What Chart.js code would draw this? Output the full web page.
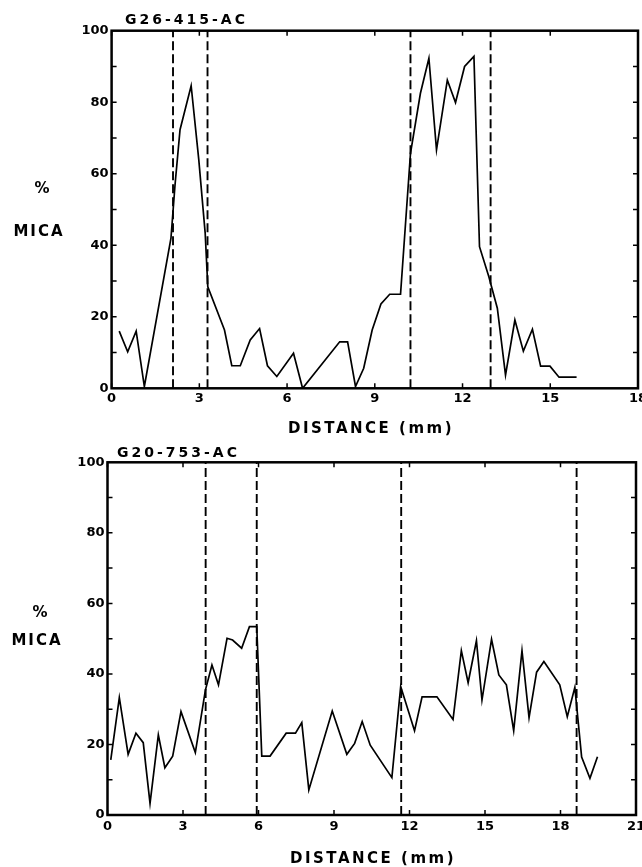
<!DOCTYPE html>
<html><head><meta charset="utf-8">
<script src="https://cdn.jsdelivr.net/npm/chart.js@4/dist/chart.umd.min.js"></script>
<style>
html,body{margin:0;padding:0;background:#fff;}
#wrap{position:relative;width:642px;height:867px;overflow:hidden;background:#fff;}
.box{position:absolute;left:0;width:642px;}
</style></head><body>
<div id="wrap">
<div class="box" style="top:0;height:440px"><canvas id="c1" width="642" height="440"></canvas></div>
<div class="box" style="top:440px;height:427px"><canvas id="c2" width="642" height="427"></canvas></div>
</div>
<script>
// ---- data ----
const topSample = "G26-415-AC";
const topDistance = [0.26,0.55,0.84,1.12,2.03,2.17,2.34,2.72,2.98,3.20,3.29,3.86,4.11,4.40,4.74,5.06,5.33,5.65,6.22,6.53,7.80,8.07,8.34,8.62,8.91,9.21,9.51,9.88,10.22,10.56,10.85,11.11,11.48,11.76,12.07,12.39,12.58,12.90,13.19,13.47,13.79,14.08,14.39,14.67,14.99,15.30,15.90];
const topMica = [16,10.2,16,0.5,42,57,72.3,84.6,64,43.4,28.4,16.3,6.3,6.3,13.5,16.7,6.3,3.3,9.8,0,13,13,0.5,5.6,16.3,23.6,26.3,26.3,65.7,82.5,92.3,66.7,86.2,79.9,90,92.8,39.6,31.2,22.4,3.7,19.1,10.4,16.5,6.2,6.2,3.1,3.1];
const topBoundaries = [2.1, 3.28, 10.22, 12.96];
const topXTicks = [0,3,6,9,12,15,18];

const bottomSample = "G20-753-AC";
const bottomDistance = [0.13,0.47,0.82,1.13,1.42,1.69,2.02,2.28,2.59,2.92,3.49,3.89,4.15,4.41,4.75,4.97,5.33,5.64,5.93,6.13,6.46,7.10,7.47,7.72,8.00,8.93,9.51,9.82,10.12,10.44,11.30,11.65,12.20,12.50,13.09,13.73,14.06,14.33,14.66,14.88,15.26,15.55,15.85,16.14,16.47,16.75,17.05,17.34,17.97,18.27,18.57,18.84,19.17,19.47];
const bottomMica = [15.6,33.3,17.2,23.2,20.5,3.3,22.7,13.4,16.7,29.3,17.7,35.4,42.5,36.9,50.1,49.6,47.3,53.4,53.4,16.7,16.7,23.2,23.2,26.2,7.1,29.5,17.2,20.3,26.5,19.8,10.6,36.4,23.9,33.5,33.5,27.1,46.6,37.5,49.4,32.6,49.8,39.7,36.9,23.9,46.6,27.6,40.5,43.5,36.9,27.9,36.2,16.4,10.4,16.5];
const bottomBoundaries = [3.9, 5.93, 11.67, 18.64];
const bottomXTicks = [0,3,6,9,12,15,18,21];

const yTickLabels = [0,20,40,60,80,100];
const yTickMarks = [10,20,30,40,50,60,70,80,90];
const yLabel1 = "%";
const yLabel2 = "MICA";
const xLabel = "DISTANCE (mm)";

// ---- drawing ----
const FONT = '"DejaVu Sans", "Liberation Sans", sans-serif';

const framePlugin = {
  id: 'frame',
  afterDatasetsDraw(chart, args, o) {
    const {ctx, chartArea: a, scales: {x, y}} = chart;
    ctx.save();
    ctx.strokeStyle = '#000';
    ctx.lineWidth = 1.5;
    ctx.beginPath();
    o.yMarks.forEach(v => {
      const py = y.getPixelForValue(v);
      ctx.moveTo(a.left, py); ctx.lineTo(a.left + 5, py);
      ctx.moveTo(a.right, py); ctx.lineTo(a.right - 5, py);
    });
    o.xMarks.forEach(v => {
      const px = x.getPixelForValue(v);
      ctx.moveTo(px, a.top); ctx.lineTo(px, a.top + 5);
      ctx.moveTo(px, a.bottom); ctx.lineTo(px, a.bottom - 5);
    });
    ctx.stroke();
    ctx.lineWidth = 2.5;
    ctx.strokeRect(a.left, a.top, a.right - a.left, a.bottom - a.top);

    ctx.fillStyle = '#000';
    ctx.textBaseline = 'middle';
    ctx.letterSpacing = '3px';
    ctx.font = 'bold 14px ' + FONT;
    ctx.textAlign = 'left';
    ctx.fillText(o.title, o.titlePos[0], o.titlePos[1]);
    ctx.letterSpacing = '2px';
    ctx.font = 'bold 15px ' + FONT;
    ctx.textAlign = 'center';
    ctx.fillText(yLabel1, o.pctPos[0], o.pctPos[1]);
    ctx.fillText(yLabel2, o.micaPos[0], o.micaPos[1]);
    ctx.letterSpacing = '2.5px';
    ctx.fillText(xLabel, o.xLabPos[0], o.xLabPos[1]);
    ctx.restore();
  }
};

function makeChart(id, H, area, xMax, xTicks, dist, mica, bounds, labels) {
  const datasets = [{
    data: dist.map((d, i) => ({x: d, y: mica[i]})),
    borderColor: '#000', borderWidth: 1.7, pointRadius: 0, tension: 0, fill: false
  }];
  bounds.forEach(b => datasets.push({
    data: [{x: b, y: 0}, {x: b, y: 100}],
    borderColor: '#000', borderWidth: 1.9, borderDash: [9, 4], pointRadius: 0, fill: false
  }));
  return new Chart(document.getElementById(id), {
    type: 'line',
    data: {datasets},
    plugins: [framePlugin],
    options: {
      responsive: false, animation: false, devicePixelRatio: 1,
      layout: {padding: {top: area.top, right: 642 - area.right, left: 0, bottom: 0}},
      plugins: {
        legend: {display: false}, tooltip: {enabled: false},
        frame: Object.assign({yMarks: yTickMarks, xMarks: xTicks}, labels)
      },
      scales: {
        x: {
          type: 'linear', min: 0, max: xMax,
          grid: {display: false, drawTicks: false}, border: {display: false},
          afterBuildTicks: s => { s.ticks = xTicks.map(v => ({value: v})); },
          afterFit: s => { s.height = H - area.bottom; s.paddingLeft = 0; s.paddingRight = 0; },
          ticks: {autoSkip: false, maxRotation: 0, padding: area.xPad, color: '#000',
                  font: {family: FONT, size: 13, weight: 'bold'}}
        },
        y: {
          type: 'linear', min: 0, max: 100,
          grid: {display: false, drawTicks: false}, border: {display: false},
          afterBuildTicks: s => { s.ticks = yTickLabels.map(v => ({value: v})); },
          afterFit: s => { s.width = area.left; s.paddingTop = 0; s.paddingBottom = 0; },
          ticks: {padding: 3, color: '#000', font: {family: FONT, size: 13, weight: 'bold'}}
        }
      }
    }
  });
}

makeChart('c1', 440, {left: 111.6, top: 30.7, right: 638, bottom: 388.3, xPad: 3},
  18, topXTicks, topDistance, topMica, topBoundaries,
  {title: topSample, titlePos: [125, 20], pctPos: [43, 189], micaPos: [39, 232], xLabPos: [371, 429]});

makeChart('c2', 427, {left: 107.5, top: 22.3, right: 636, bottom: 375, xPad: 4},
  21, bottomXTicks, bottomDistance, bottomMica, bottomBoundaries,
  {title: bottomSample, titlePos: [117, 13.3], pctPos: [41, 173], micaPos: [37, 201], xLabPos: [373, 419]});
</script>
</body></html>
